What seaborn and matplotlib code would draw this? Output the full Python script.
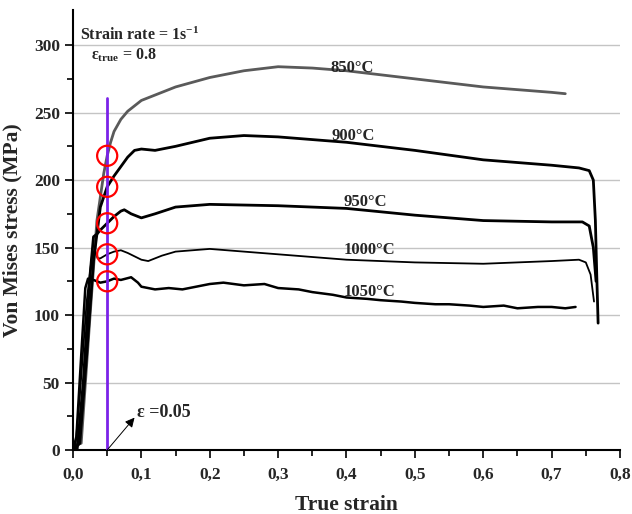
import matplotlib
matplotlib.use('Agg')
import matplotlib.pyplot as plt
import seaborn as sns

# true strain / von mises stress
strain_850 = [0.0, 0.012, 0.025, 0.035, 0.045, 0.05, 0.055, 0.06, 0.07, 0.08, 0.1, 0.15, 0.2,
              0.25, 0.3, 0.35, 0.4, 0.5, 0.6, 0.7, 0.72]
stress_850 = [3, 5, 100, 170, 205, 218, 228, 236, 245, 251, 259, 269, 276,
              281, 284, 283, 281, 275, 269, 265, 264]

strain_900 = [0.0, 0.01, 0.02, 0.03, 0.04, 0.05, 0.06, 0.07, 0.08, 0.09, 0.1, 0.12, 0.15,
              0.2, 0.25, 0.3, 0.4, 0.5, 0.6, 0.7, 0.74, 0.755, 0.761, 0.764, 0.766, 0.768]
stress_900 = [0, 5, 70, 140, 180, 195, 203, 210, 217, 222, 223, 222, 225,
              231, 233, 232, 228, 222, 215, 211, 209, 207, 200, 170, 130, 94]

strain_950 = [0.006, 0.015, 0.025, 0.03, 0.035, 0.04, 0.05, 0.06, 0.07, 0.075, 0.085, 0.1,
              0.12, 0.15, 0.2, 0.3, 0.4, 0.5, 0.6, 0.7, 0.745, 0.755, 0.761, 0.765]
stress_950 = [0, 50, 130, 158, 160, 163, 168, 173, 177, 178, 175, 172,
              175, 180, 182, 181, 179, 174, 170, 169, 169, 166, 150, 125]

strain_1000 = [0.003, 0.01, 0.02, 0.028, 0.032, 0.036, 0.04, 0.05, 0.06, 0.07, 0.08, 0.1,
               0.11, 0.13, 0.15, 0.2, 0.3, 0.4, 0.5, 0.6, 0.7, 0.74, 0.75, 0.757, 0.762]
stress_1000 = [0, 40, 110, 145, 148, 142, 142, 145, 147, 148, 146, 141,
               140, 144, 147, 149, 145, 141, 139, 138, 140, 141, 139, 130, 110]

strain_1050 = [0.0, 0.005, 0.012, 0.018, 0.022, 0.03, 0.04, 0.05, 0.06, 0.07, 0.085, 0.095,
               0.1, 0.12, 0.14, 0.16, 0.18, 0.2, 0.22, 0.25, 0.28, 0.3, 0.33, 0.35, 0.38,
               0.4, 0.43, 0.45, 0.48, 0.5, 0.53, 0.55, 0.58, 0.6, 0.63, 0.65, 0.68, 0.7, 0.72, 0.735]
stress_1050 = [0, 10, 70, 120, 127, 126, 124, 125, 127, 126, 128, 124,
               121, 119, 120, 119, 121, 123, 124, 122, 123, 120, 119, 117, 115,
               113, 112, 111, 110, 109, 108, 108, 107, 106, 107, 105, 106, 106, 105, 106]

temps = ['850°C', '900°C', '950°C', '1000°C', '1050°C']
circle_stress = [218, 195, 168, 145, 125]
label_x = [0.409, 0.41, 0.428, 0.434, 0.434]
label_y = [280, 230, 181, 145, 114]

sns.set_theme(style='white')
plt.rcParams['font.family'] = ['Liberation Serif', 'DejaVu Serif']
plt.rcParams['font.weight'] = 'bold'
plt.rcParams['mathtext.fontset'] = 'custom'
plt.rcParams['mathtext.rm'] = 'Liberation Serif:bold'
plt.rcParams['mathtext.it'] = 'Liberation Serif:bold'
plt.rcParams['mathtext.bf'] = 'Liberation Serif:bold'

fig = plt.figure(figsize=(6.32, 5.14), dpi=100)
ax = fig.add_axes([0.1155, 0.1245, 0.8655, 0.856])

for yv in [50, 100, 150, 200, 250, 300]:
    ax.axhline(yv, color='#c4c4c4', lw=1, zorder=0)

series = [
    (strain_850, stress_850, '#5a5a5a', 2.0),
    (strain_900, stress_900, 'black', 2.0),
    (strain_950, stress_950, 'black', 2.0),
    (strain_1000, stress_1000, 'black', 1.3),
    (strain_1050, stress_1050, 'black', 1.8),
]
for xs, ys, col, lw in series:
    sns.lineplot(x=xs, y=ys, ax=ax, color=col, lw=lw, sort=False, estimator=None)

ax.plot([0.05, 0.05], [0, 261], color='#7b22e8', lw=2, zorder=3)
sns.scatterplot(x=[0.05] * len(circle_stress), y=circle_stress, ax=ax, marker='o', s=210,
                facecolors='none', edgecolor='red', linewidth=1.6, zorder=4)

for t, px, py in zip(temps, label_x, label_y):
    ax.text(px, py, t, fontsize=12, fontweight='bold', ha='center', va='baseline')

ax.text(0.01, 304, 'Strain rate = 1s$\\mathregular{^{-1}}$', fontsize=11.5, fontweight='bold',
        va='baseline')
ax.text(0.027, 289, '$\\mathregular{\\varepsilon_{true}}$ = 0.8', fontsize=11.5, fontweight='bold',
        va='baseline')
ax.annotate('', xy=(0.09, 24), xytext=(0.05, 0),
            arrowprops=dict(arrowstyle='-|>', color='black', lw=0.7, shrinkA=0, shrinkB=0,
                            mutation_scale=14))
ax.text(0.093, 28, 'ε =0.05', fontsize=13, fontweight='bold', va='center')

ax.set_xlim(0, 0.8)
ax.set_ylim(0, 326)
ax.set_xticks([0.0, 0.1, 0.2, 0.3, 0.4, 0.5, 0.6, 0.7, 0.8])
ax.set_xticklabels(['0,0', '0,1', '0,2', '0,3', '0,4', '0,5', '0,6', '0,7', '0,8'])
ax.set_xticks([0.05 + 0.1 * i for i in range(8)], minor=True)
ax.set_yticks([0, 50, 100, 150, 200, 250, 300])
ax.set_yticks([25, 75, 125, 175, 225, 275], minor=True)
ax.tick_params(axis='both', which='major', direction='out', length=6, width=1.2,
               labelsize=12.5, color='black', bottom=True, left=True)
ax.tick_params(axis='both', which='minor', direction='out', length=4, width=1.2,
               color='black', bottom=True, left=True)
ax.tick_params(axis='x', pad=6)
for lab in ax.get_xticklabels() + ax.get_yticklabels():
    lab.set_fontweight('bold')

for side in ['top', 'right']:
    ax.spines[side].set_visible(False)
for side in ['left', 'bottom']:
    ax.spines[side].set_color('black')
    ax.spines[side].set_linewidth(1.5)

ax.set_xlabel('True strain', fontsize=15.5, fontweight='bold', labelpad=9)
ax.set_ylabel('Von Mises stress (MPa)', fontsize=15.5, fontweight='bold', labelpad=8)

fig.savefig('out.png', dpi=100)
